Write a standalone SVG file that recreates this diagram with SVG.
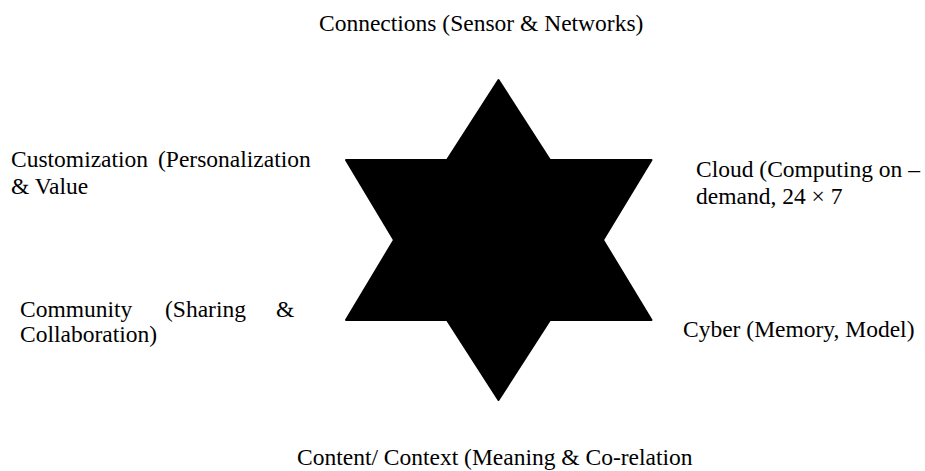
<svg xmlns="http://www.w3.org/2000/svg" width="925" height="471" viewBox="0 0 925 471">
  <style>
    .lbl { font-family: "Liberation Serif", "Times New Roman", "DejaVu Serif", serif; font-size: 23.5px; fill: #000; }
    .star { fill: #000; stroke: #000; stroke-width: 2; stroke-linejoin: round; }
  </style>
  <rect width="925" height="471" fill="#fff"/>

  <!-- six-pointed star in the centre -->
  <g id="star">
    <polygon class="star" points="498.5,80 447,160 346,160 394,240 346,320 447,320 498.5,400 550,320 651.5,320 603,240 651.5,160 550,160"/>
  </g>

  <g id="connections">
    <text class="lbl" x="319" y="31">Connections (Sensor &amp; Networks)</text>
  </g>

  <g id="customization">
    <text class="lbl" x="11" y="167">Customization <tspan x="158">(Personalization</tspan></text>
    <text class="lbl" x="11" y="193.5">&amp; Value</text>
  </g>

  <g id="cloud">
    <text class="lbl" x="696" y="176.5">Cloud (Computing on –</text>
    <text class="lbl" x="696" y="203.5">demand, 24 × 7</text>
  </g>

  <g id="community">
    <text class="lbl" x="20" y="317">Community</text>
    <text class="lbl" x="165" y="317">(Sharing</text>
    <text class="lbl" x="276" y="317">&amp;</text>
    <text class="lbl" x="20" y="342">Collaboration)</text>
  </g>

  <g id="cyber">
    <text class="lbl" x="683" y="337">Cyber (Memory, Model)</text>
  </g>

  <g id="content">
    <text class="lbl" x="297" y="464.5">Content/ Context (Meaning &amp; Co-relation</text>
  </g>
</svg>
